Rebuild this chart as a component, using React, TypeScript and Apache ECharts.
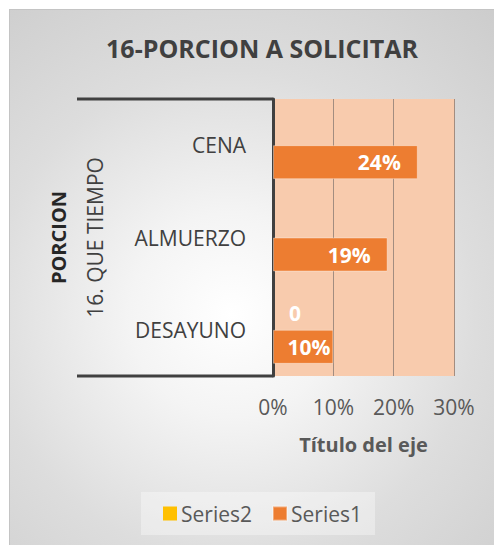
import React, { useEffect, useRef } from "react";
import * as echarts from "echarts";

const categories = ["DESAYUNO", "ALMUERZO", "CENA"];
const series1Values = [0.1, 0.19, 0.24];
const series2Values: (number | null)[] = [0, null, null];
const xTicks = { min: 0, max: 0.3, interval: 0.1 };
const titleText = "16-PORCION A SOLICITAR";
const axisTitle = "Título del eje";
const level1Label = "PORCION";
const level2Label = "16. QUE TIEMPO";

const FONT = "Open Sans";

export default function App() {
  const ref = useRef<HTMLDivElement>(null);
  useEffect(() => {
    if (!ref.current) return;
    const chart = echarts.init(ref.current, undefined, { renderer: "svg" });
    const gridLeft = 273;
    const gridTop = 99;
    const gridBottomY = 376;
    chart.setOption({
      animation: false,
      backgroundColor: "transparent",
      textStyle: { fontFamily: FONT },
      title: {
        text: titleText,
        left: 257,
        top: 30,
        textAlign: "center",
        textStyle: { fontFamily: FONT, fontSize: 25, fontWeight: "bold", color: "#404040" },
      },
      legend: {
        data: ["Series2", "Series1"],
        left: 141,
        top: 492,
        orient: "horizontal",
        itemWidth: 14,
        itemHeight: 14,
        itemGap: 20,
        padding: [11, 13, 11, 22],
        backgroundColor: "rgba(255,255,255,0.35)",
        icon: "rect",
        textStyle: { fontFamily: FONT, fontSize: 21, color: "#595959", padding: [0, 0, 0, -1] },
      },
      grid: {
        left: gridLeft,
        right: 40,
        top: gridTop,
        bottom: 545 - gridBottomY,
        show: true,
        backgroundColor: "#F8CBAD",
        borderWidth: 0,
      },
      xAxis: {
        type: "value",
        min: xTicks.min,
        max: xTicks.max,
        interval: xTicks.interval,
        axisLine: { show: false },
        axisTick: { show: false },
        splitLine: { show: true, lineStyle: { color: "#A38D80", width: 1 } },
        axisLabel: {
          margin: 20,
          fontFamily: FONT,
          fontSize: 21,
          color: "#595959",
          formatter: (v: number) => Math.round(v * 100) + "%",
        },
        name: axisTitle,
        nameLocation: "middle",
        nameGap: 58,
        nameTextStyle: { fontFamily: FONT, fontSize: 20, fontWeight: "bold", color: "#595959" },
      },
      yAxis: {
        type: "category",
        data: categories,
        axisLine: { show: true, lineStyle: { color: "#404040", width: 3 } },
        axisTick: { show: false },
        axisLabel: { margin: 27, fontFamily: FONT, fontSize: 21, color: "#404040" },
      },
      graphic: [
        {
          type: "line",
          shape: { x1: 77, y1: gridTop, x2: gridLeft, y2: gridTop },
          style: { stroke: "#404040", lineWidth: 3 },
        },
        {
          type: "line",
          shape: { x1: 77, y1: gridBottomY, x2: gridLeft, y2: gridBottomY },
          style: { stroke: "#404040", lineWidth: 3 },
        },
        {
          type: "text",
          x: 95,
          y: (gridTop + gridBottomY) / 2,
          rotation: Math.PI / 2,
          style: {
            text: level2Label,
            fontFamily: FONT,
            fontSize: 21,
            fill: "#404040",
            textAlign: "center",
            textVerticalAlign: "middle",
          },
        },
        {
          type: "text",
          x: 58,
          y: (gridTop + gridBottomY) / 2,
          rotation: Math.PI / 2,
          style: {
            text: level1Label,
            fontFamily: FONT,
            fontSize: 20,
            fontWeight: "bold",
            fill: "#262626",
            textAlign: "center",
            textVerticalAlign: "middle",
          },
        },
      ],
      series: [
        {
          name: "Series2",
          type: "bar",
          data: series2Values,
          barWidth: 34,
          barGap: "0%",
          itemStyle: { color: "#FFC000" },
          label: {
            show: true,
            position: "right",
            distance: 16,
            fontFamily: FONT,
            fontSize: 21,
            fontWeight: "bold",
            color: "#ffffff",
            formatter: (p: any) => String(p.value),
          },
        },
        {
          name: "Series1",
          type: "bar",
          barWidth: 34,
          barGap: "0%",
          data: series1Values.map((v) => ({
            value: v,
            label: { distance: v < 0.15 ? 3 : 17 },
          })),
          itemStyle: { color: "#ED7D31", borderColor: "rgba(255,255,255,0.35)", borderWidth: 1 },
          label: {
            show: true,
            position: "insideRight",
            fontFamily: FONT,
            fontSize: 21,
            fontWeight: "bold",
            color: "#ffffff",
            formatter: (p: any) => Math.round(p.value * 100) + "%",
          },
        },
      ],
    });
    return () => chart.dispose();
  }, []);

  return (
    <div style={{ position: "fixed", left: 0, top: 0, width: 494, height: 545, background: "#ffffff", overflow: "hidden" }}>
      <div
        style={{
          position: "absolute",
          left: 9,
          top: 9,
          width: 494,
          height: 545,
          boxSizing: "border-box",
          borderLeft: "1px solid #C4C4C4",
          borderTop: "1px solid #C4C4C4",
          background: "radial-gradient(circle at 45% 56%, #ffffff 0%, #f4f4f4 25%, #dddddd 60%, #cccccc 100%)",
        }}
      />
      <div ref={ref} style={{ position: "absolute", left: 0, top: 0, width: 494, height: 545 }} />
    </div>
  );
}
